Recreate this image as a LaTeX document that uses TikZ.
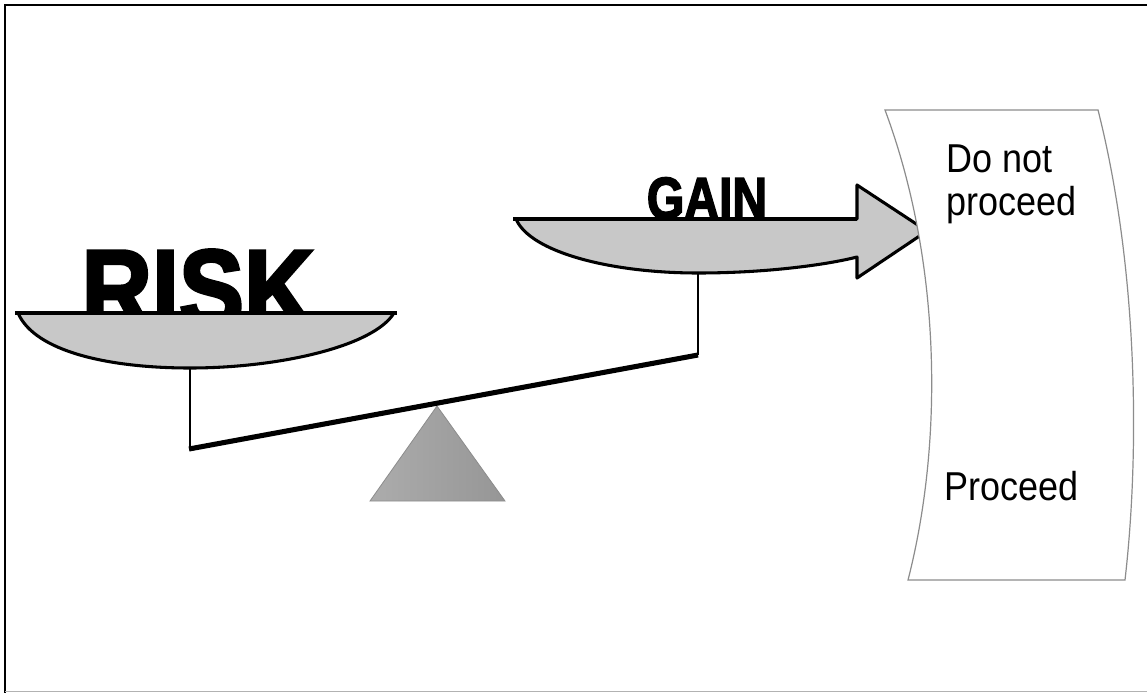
\documentclass[tikz,border=0pt]{standalone}
\usepackage{fontspec}
\setmainfont{Liberation Sans}
\newfontfamily\heavyfont{Liberation Sans Bold}[FakeBold=3]
\usetikzlibrary{calc}

\definecolor{panfill}{RGB}{200,200,200}
\definecolor{scrollline}{RGB}{140,140,140}
\definecolor{fulcrumA}{RGB}{172,172,172}
\definecolor{fulcrumB}{RGB}{150,150,150}

\tikzset{
  pan/.style={draw=black, fill=panfill, line width=2.3pt, line join=round},
  panrim/.style={draw=black, line width=2.3pt, line cap=butt},
  stem/.style={draw=black, line width=2pt},
  beam/.style={draw=black, line width=3.8pt, line cap=butt, line join=miter},
  fulcrum/.style={draw=scrollline, line width=0.6pt, left color=fulcrumA, right color=fulcrumB},
  scroll/.style={draw=scrollline, fill=white, line width=0.9pt},
  weight/.style={inner sep=0pt, anchor=base},
  note/.style={inner sep=0pt, anchor=base west, font=\fontsize{27}{32}\selectfont},
}

\begin{document}
\begin{tikzpicture}[x=0.75pt, y=-0.75pt]
  % page and frame
  \useasboundingbox (0,0) rectangle (1147,693);
  \fill[white] (0,0) rectangle (1147,693);
  \draw[black, line width=2.2pt] (5,693) -- (5,5) -- (1147,5);
  \draw[gray!60, line width=0.8pt] (5,691.5) -- (1147,691.5);

  % RISK weight sitting in the left pan
  \node[weight] (risk) at (198,328)
    {\scalebox{0.87}[1]{\heavyfont\fontsize{84}{84}\selectfont RISK}};
  % left pan
  \path[pan] (18,313) .. controls (35,352) and (110,368) .. (190,368)
             .. controls (280,368) and (374,346) .. (394,313) -- cycle;
  \draw[panrim] (15,313) -- (397,313);
  \coordinate (riskhook) at (190,368);

  % GAIN weight in the right pan
  \node[weight] (gain) at (707,218.5)
    {\scalebox{0.82}[1]{\heavyfont\fontsize{44}{44}\selectfont GAIN}};
  % right pan, running into an arrow head
  \path[pan] (516,219) .. controls (530,252) and (610,273) .. (698,273)
             .. controls (770,273) and (830,264) .. (857,257)
             -- (857,278) -- (927,231) -- (857,185) -- (857,219) -- cycle;
  \draw[panrim] (513,219) -- (857,219);
  \coordinate (gainhook) at (698,273);

  % fulcrum
  \path[fulcrum] (437,406) -- (505,501) -- (370,501) -- cycle;
  \coordinate (pivot) at (437,406);

  % balance beam and hangers
  \coordinate (beamL) at (189,449);
  \coordinate (beamR) at (698,355);
  \draw[stem] (riskhook) -- (riskhook |- beamL);
  \draw[stem] (gainhook) -- (gainhook |- beamR);
  \draw[beam] (beamL) -- (beamR);

  % decision scroll
  \path[scroll] (885,110) -- (1098,110)
     .. controls (1136,260) and (1141,440) .. (1125,580)
     -- (908,580)
     .. controls (944,440) and (941,260) .. (885,110) -- cycle;

  \node[note] (donot) at (946,172) {\scalebox{1}[1.12]{Do not}};
  \node[note] (proceedA) at (946,215) {\scalebox{1}[1.12]{proceed}};
  \node[note] (proceedB) at (944,500) {\scalebox{1}[1.12]{Proceed}};
\end{tikzpicture}
\end{document}
